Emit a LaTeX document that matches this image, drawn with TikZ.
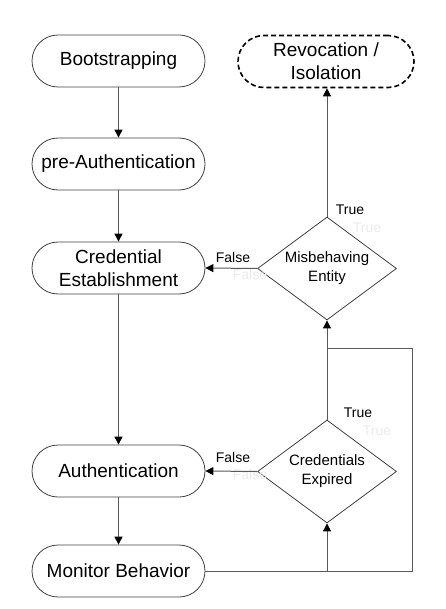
\documentclass[tikz,border=0pt]{standalone}
\usepackage{fontspec}
\setmainfont{Liberation Sans}
\usetikzlibrary{shapes.geometric,arrows.meta}

\begin{document}
\begin{tikzpicture}%
  [x=1pt,y=-1pt,>={Triangle[length=8pt,width=8pt,color=black]}]
  \tikzstyle{term node}=[rectangle,draw=black!75,line width=0.8pt,rounded corners=26pt,minimum width=173pt,minimum height=52pt,align=center,font=\fontsize{19}{23}\selectfont]
  \tikzstyle{dec node}=[diamond,draw=black!75,line width=0.8pt,aspect=1.35,minimum width=139pt,minimum height=103pt,inner sep=0pt,align=center,font=\fontsize{15}{19}\selectfont]
  \tikzstyle{lbl node}=[font=\fontsize{14}{16}\selectfont]
  \tikzstyle{ghost node}=[lbl node,text=black!8]
  \tikzstyle{line}=[draw=black!65,line width=1pt]
  \useasboundingbox (0,0) rectangle (445,609);
  \node(boot)[term node] at (118.5,61){Bootstrapping};
  \node(preauth)[term node] at (118.5,164){pre-Authentication};
  \node(cred)[term node] at (118.5,268){Credential\\Establishment};
  \node(auth)[term node] at (118.5,471){Authentication};
  \node(mon)[term node] at (118.5,571){Monitor Behavior};
  \node(revoke)[term node,draw=black,dash pattern=on 5pt off 3pt,line width=1.6pt,minimum width=176pt] at (326,61.5){Revocation /\\Isolation};
  \node(misb)[dec node] at (327,268.5){Misbehaving\\Entity};
  \node(expd)[dec node] at (327,471.5){Credentials\\Expired};
  \coordinate(loopbr) at (412,571);
  \coordinate(looptr) at (412,348);
  % branch labels
  \node(misbghostT)[ghost node] at (367,228){True};
  \node(misbghostF)[ghost node] at (250,274){False};
  \node(expdghostT)[ghost node] at (377,431){True};
  \node(expdghostF)[ghost node] at (250,474){False};
  \node(misbT)[lbl node] at (350,210){True};
  \node(misbF)[lbl node] at (233,257){False};
  \node(expdT)[lbl node] at (358,413){True};
  \node(expdF)[lbl node] at (233,457){False};
  % connectors
  \draw[line,->] (boot) -- (preauth);
  \draw[line,->] (preauth) -- (cred);
  \draw[line,->] (cred) -- (auth);
  \draw[line,->] (auth) -- (mon);
  \draw[line,->] (misb.north) -- (revoke.south -| misb.north);
  \draw[line,->] (misb.west) -- (cred.east);
  \draw[line,->] (expd.west) -- (auth.east);
  \draw[line,->] (expd.north) -- (misb.south);
  \draw[line] (mon.east) -- (loopbr) -- (looptr) -- (looptr -| misb.south);
  \draw[line,->] (mon.east -| expd.south) -- (expd.south);
\end{tikzpicture}
\end{document}
